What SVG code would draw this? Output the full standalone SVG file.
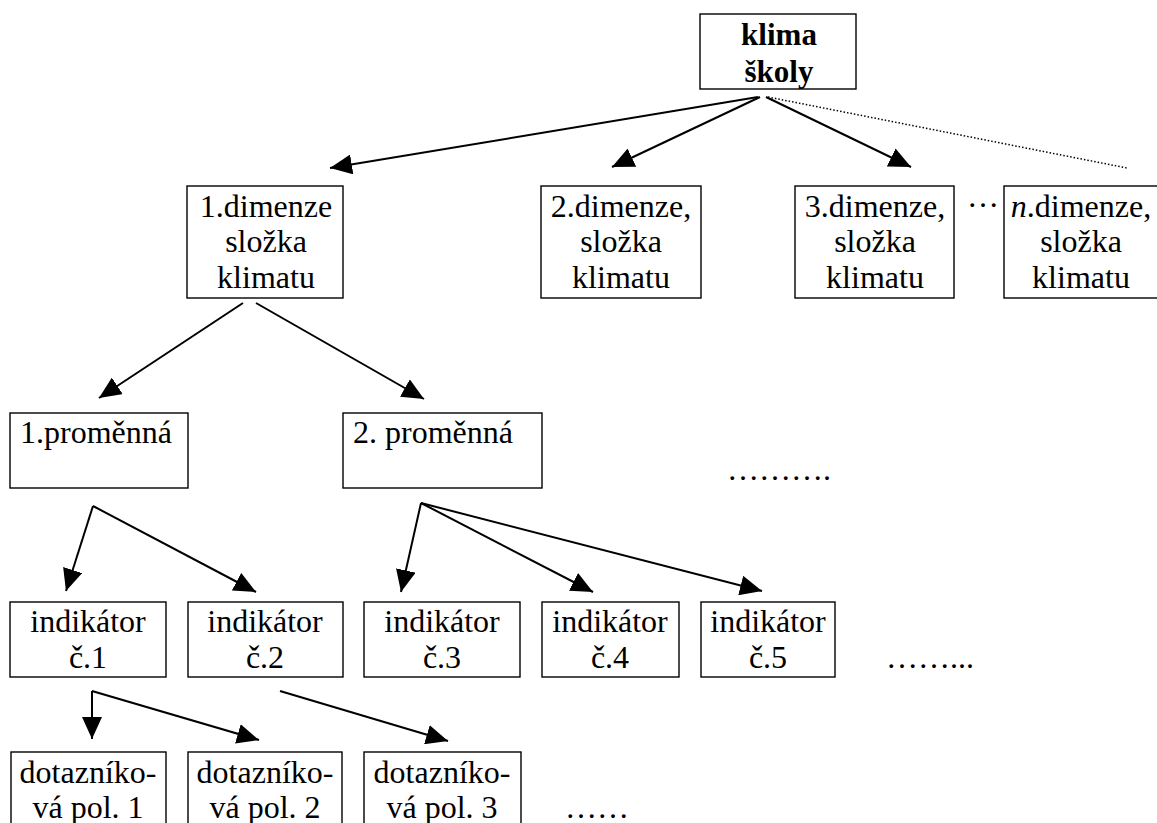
<svg xmlns="http://www.w3.org/2000/svg" width="1157" height="823" viewBox="0 0 1157 823">
<style>
  .box { fill: #ffffff; stroke: #000000; stroke-width: 1.4; }
  text { font-family: "Liberation Serif", "Times New Roman", "DejaVu Serif", serif; font-size: 32px; fill: #000000; }
  .t { text-anchor: middle; }
  .b { font-weight: bold; font-size: 31px; }
  .edge { fill: none; stroke: #000000; stroke-width: 2; marker-end: url(#ah); }
  .dotted { fill: none; stroke: #000000; stroke-width: 1.5; stroke-dasharray: 1.5 2; }
</style>
<defs>
  <marker id="ah" viewBox="0 0 22 20" refX="22" refY="10" markerWidth="22" markerHeight="20" markerUnits="userSpaceOnUse" orient="auto">
    <path d="M0,0 L22,10 L0,20 Z" fill="#000000"/>
  </marker>
</defs>
<rect width="1157" height="823" fill="#ffffff"/>

<g id="connectors">
  <line class="edge" x1="758" y1="97" x2="330" y2="168"/>
  <line class="edge" x1="760" y1="97" x2="612" y2="167"/>
  <line class="edge" x1="766" y1="97" x2="911" y2="167"/>
  <line class="dotted" x1="768" y1="97" x2="1127" y2="168"/>
  <line class="edge" x1="243" y1="303" x2="99" y2="398"/>
  <line class="edge" x1="256" y1="303" x2="424" y2="399"/>
  <line class="edge" x1="93" y1="506" x2="66" y2="591"/>
  <line class="edge" x1="93" y1="506" x2="256" y2="592"/>
  <line class="edge" x1="421" y1="503" x2="401" y2="592"/>
  <line class="edge" x1="421" y1="503" x2="593" y2="592"/>
  <line class="edge" x1="421" y1="503" x2="762" y2="591"/>
  <line class="edge" x1="92" y1="691" x2="92" y2="739"/>
  <line class="edge" x1="92" y1="691" x2="259" y2="740"/>
  <line class="edge" x1="280" y1="691" x2="448" y2="741"/>
</g>

<g id="klima-skoly">
  <rect class="box" x="700" y="14" width="156" height="75"/>
  <text class="t b" x="779" y="45" font-family="Liberation Serif, serif">klima</text>
  <text class="t b" x="779" y="82" font-family="Liberation Serif, serif">školy</text>
</g>

<g id="dim1">
  <rect class="box" x="187" y="186" width="156" height="112"/>
  <text class="t" x="266" y="217">1.dimenze</text>
  <text class="t" x="266" y="252">složka</text>
  <text class="t" x="266" y="288">klimatu</text>
</g>
<g id="dim2">
  <rect class="box" x="541" y="186" width="160" height="112"/>
  <text class="t" x="621" y="217">2.dimenze,</text>
  <text class="t" x="621" y="252">složka</text>
  <text class="t" x="621" y="288">klimatu</text>
</g>
<g id="dim3">
  <rect class="box" x="795" y="186" width="159" height="112"/>
  <text class="t" x="875" y="217">3.dimenze,</text>
  <text class="t" x="875" y="252">složka</text>
  <text class="t" x="875" y="288">klimatu</text>
</g>
<g id="dim-ellipsis">
  <text class="t" x="983" y="207">…</text>
</g>
<g id="dimn">
  <rect class="box" x="1004" y="186" width="156" height="112"/>
  <text class="t" x="1081" y="217"><tspan font-style="italic">n</tspan>.dimenze,</text>
  <text class="t" x="1081" y="252">složka</text>
  <text class="t" x="1081" y="288">klimatu</text>
</g>

<g id="prom1">
  <rect class="box" x="10" y="413" width="178" height="75"/>
  <text class="t" x="96" y="443">1.proměnná</text>
</g>
<g id="prom2">
  <rect class="box" x="343" y="413" width="199" height="75"/>
  <text class="t" x="433" y="443">2. proměnná</text>
</g>
<g id="prom-ellipsis">
  <text x="727" y="480">……….</text>
</g>

<g id="ind1">
  <rect class="box" x="10" y="602" width="156" height="75"/>
  <text class="t" x="88" y="632">indikátor</text>
  <text class="t" x="88" y="668">č.1</text>
</g>
<g id="ind2">
  <rect class="box" x="188" y="602" width="155" height="75"/>
  <text class="t" x="265" y="632">indikátor</text>
  <text class="t" x="265" y="668">č.2</text>
</g>
<g id="ind3">
  <rect class="box" x="364" y="602" width="156" height="75"/>
  <text class="t" x="442" y="632">indikátor</text>
  <text class="t" x="442" y="668">č.3</text>
</g>
<g id="ind4">
  <rect class="box" x="542" y="602" width="137" height="75"/>
  <text class="t" x="610" y="632">indikátor</text>
  <text class="t" x="610" y="668">č.4</text>
</g>
<g id="ind5">
  <rect class="box" x="701" y="602" width="134" height="75"/>
  <text class="t" x="768" y="632">indikátor</text>
  <text class="t" x="768" y="668">č.5</text>
</g>
<g id="ind-ellipsis">
  <text x="886" y="668">……...</text>
</g>

<g id="pol1">
  <rect class="box" x="11" y="752" width="155" height="80"/>
  <text class="t" x="88" y="783">dotazníko-</text>
  <text class="t" x="88" y="818">vá pol. 1</text>
</g>
<g id="pol2">
  <rect class="box" x="188" y="752" width="154" height="80"/>
  <text class="t" x="265" y="783">dotazníko-</text>
  <text class="t" x="265" y="818">vá pol. 2</text>
</g>
<g id="pol3">
  <rect class="box" x="364" y="752" width="157" height="80"/>
  <text class="t" x="442" y="783">dotazníko-</text>
  <text class="t" x="442" y="818">vá pol. 3</text>
</g>
<g id="pol-ellipsis">
  <text x="565" y="818">……</text>
</g>
</svg>
